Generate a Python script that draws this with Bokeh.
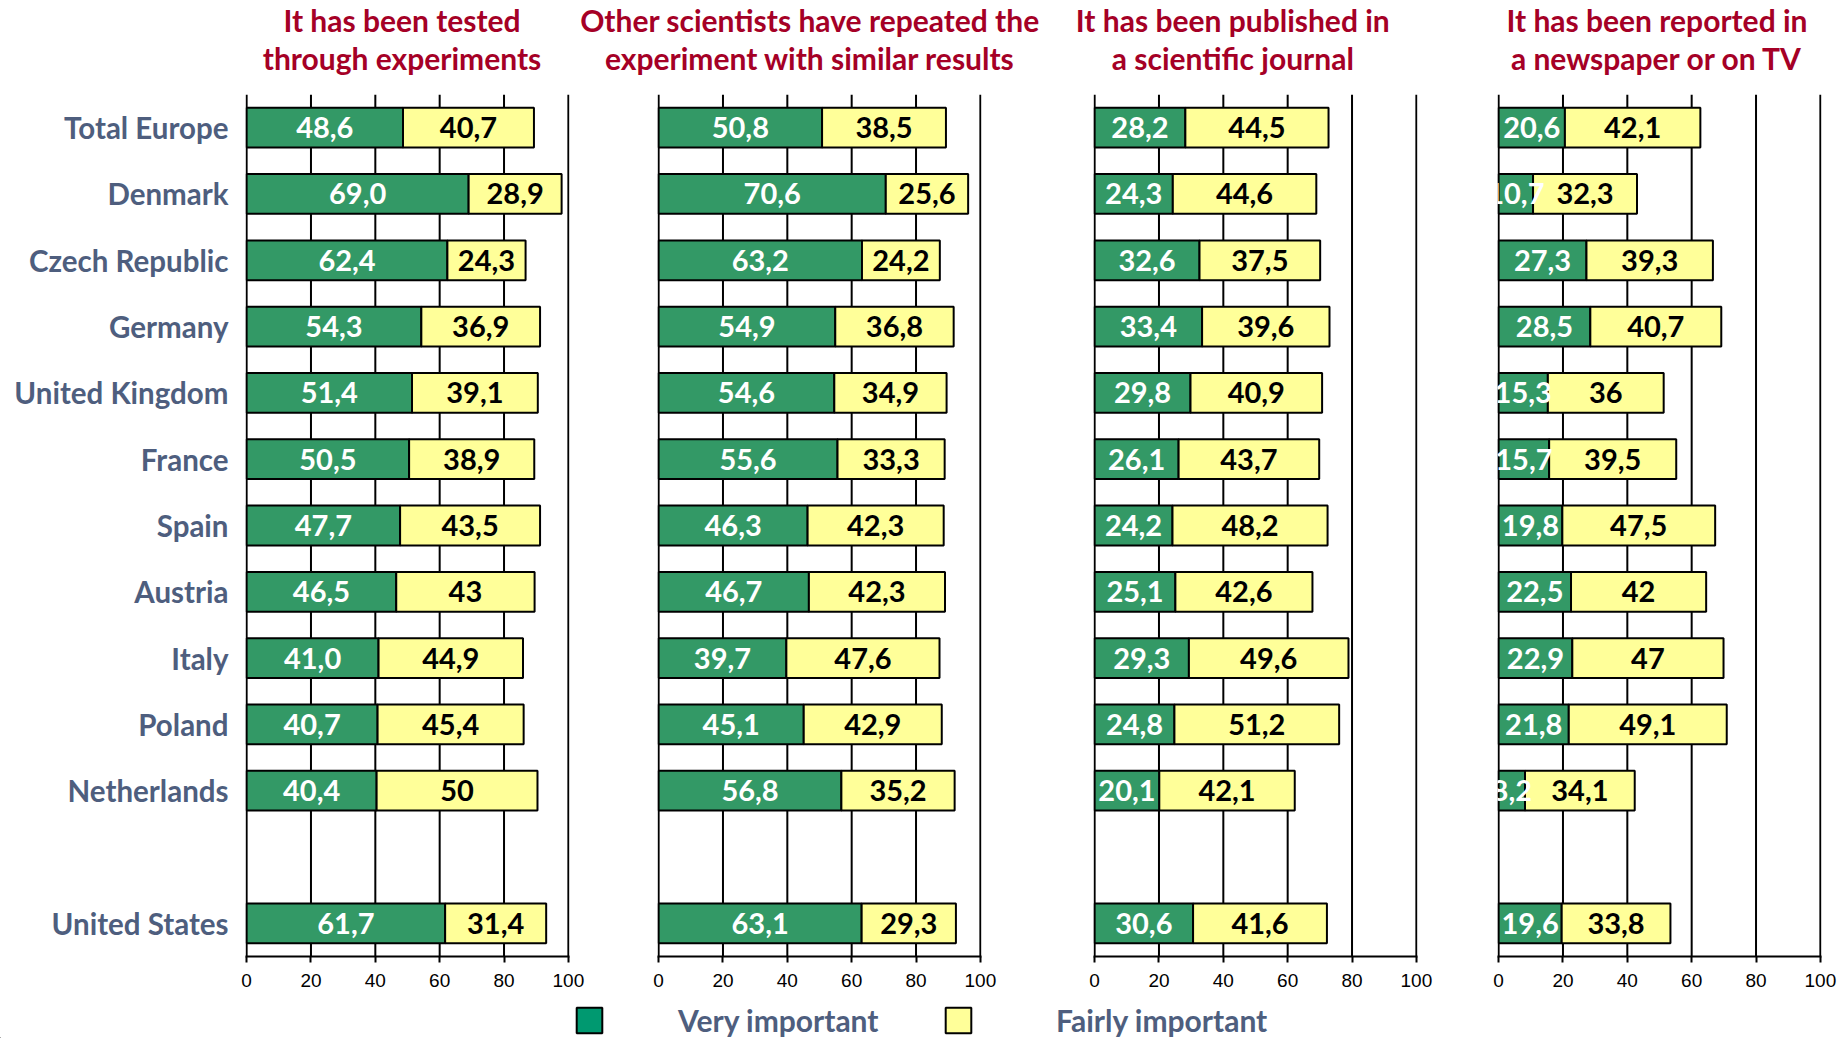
from bokeh.plotting import figure
from bokeh.models import (ColumnDataSource, FactorRange, Range1d, FixedTicker, Legend,
                          LegendItem, PolyAnnotation)
from bokeh.layouts import row, column
from bokeh.embed import file_html
from bokeh.resources import INLINE
from bokeh.core.properties import value

# ---------------- data ----------------
countries = ["Total Europe", "Denmark", "Czech Republic", "Germany", "United Kingdom",
             "France", "Spain", "Austria", "Italy", "Poland", "Netherlands", "United States"]

tested_very = [48.6, 69.0, 62.4, 54.3, 51.4, 50.5, 47.7, 46.5, 41.0, 40.7, 40.4, 61.7]
tested_fairly = [40.7, 28.9, 24.3, 36.9, 39.1, 38.9, 43.5, 43, 44.9, 45.4, 50, 31.4]

repeated_very = [50.8, 70.6, 63.2, 54.9, 54.6, 55.6, 46.3, 46.7, 39.7, 45.1, 56.8, 63.1]
repeated_fairly = [38.5, 25.6, 24.2, 36.8, 34.9, 33.3, 42.3, 42.3, 47.6, 42.9, 35.2, 29.3]

journal_very = [28.2, 24.3, 32.6, 33.4, 29.8, 26.1, 24.2, 25.1, 29.3, 24.8, 20.1, 30.6]
journal_fairly = [44.5, 44.6, 37.5, 39.6, 40.9, 43.7, 48.2, 42.6, 49.6, 51.2, 42.1, 41.6]

media_very = [20.6, 10.7, 27.3, 28.5, 15.3, 15.7, 19.8, 22.5, 22.9, 21.8, 8.2, 19.6]
media_fairly = [42.1, 32.3, 39.3, 40.7, 36, 39.5, 47.5, 42, 47, 49.1, 34.1, 33.8]

title_line1 = ["It has been tested", "Other scientists have repeated the",
               "It has been published in", "It has been reported in"]
title_line2 = ["through experiments", "experiment with similar results",
               "a scientific journal", "a newspaper or on TV"]
series_names = ["Very important", "Fairly important"]
x_ticks = [0, 20, 40, 60, 80, 100]
linked_label = "Spain"   # shown underlined (hyperlink) in the source chart

panels = [
    (tested_very, tested_fairly),
    (repeated_very, repeated_fairly),
    (journal_very, journal_fairly),
    (media_very, media_fairly),
]

# ---------------- style ----------------
GREEN = "#339966"
YELLOW = "#FFFF99"
LEG_GREEN = "#009970"
TITLE_RED = "#A50026"
SLATE = "#4E5E7E"
FONT = "Lato"
W = 1846
HEADER_H = 94
FRAME_W = 324

# row order bottom -> top (blank spacer between Netherlands and United States)
factors = [countries[-1], " "] + list(reversed(countries[:-1]))


def fmt(v):
    if isinstance(v, int):
        return str(v)
    return f"{v:.1f}".replace(".", ",")


# per-panel geometry: (figure width, left border, right border, title centre offset)
geom = [
    (585, 245, 16, -5.5),
    (452, 72, 56, -9.5),
    (419, 56, 39, -22.7),
    (390, 41, 25, -2.5),
]

# ---------------- header with the two-line panel titles ----------------
hdr = figure(width=W, height=HEADER_H, x_range=Range1d(0, W), y_range=Range1d(HEADER_H, 0),
             toolbar_location=None, output_backend="svg", min_border=0)
hdr.axis.visible = False
hdr.grid.visible = False
hdr.outline_line_color = None
centres = []
left = 0
for (w, bl, br, off) in geom:
    centres.append(left + bl + FRAME_W / 2 + off)
    left += w
hdr.text(x=centres + centres, y=[19] * 4 + [57] * 4, text=title_line1 + title_line2,
         text_align="center", text_baseline="middle", text_font=value(FONT),
         text_font_style="bold", text_font_size="30px", text_color=TITLE_RED)

# ---------------- panels ----------------
figs = []
for i, ((very, fairly), (w, bl, br, off)) in enumerate(zip(panels, geom)):
    src = ColumnDataSource(dict(
        country=countries,
        very=very,
        total=[a + b for a, b in zip(very, fairly)],
        vx=[a / 2 for a in very],
        fx=[a + b / 2 for a, b in zip(very, fairly)],
        vlab=[fmt(a) for a in very],
        flab=[fmt(b) for b in fairly],
    ))
    p = figure(width=w, height=900, y_range=FactorRange(*factors, range_padding=0),
               x_range=Range1d(-0.35, 100.35), toolbar_location=None, output_backend="svg",
               title=None, min_border_left=bl, min_border_right=br, min_border_top=0,
               min_border_bottom=38)
    p.outline_line_color = None
    p.background_fill_color = None
    p.border_fill_color = None

    # vertical grid lines as glyphs, drawn beneath the bars
    p.segment(x0=x_ticks, x1=x_ticks, y0=[0] * len(x_ticks), y1=[len(factors)] * len(x_ticks),
              line_color="black", line_width=2)

    p.hbar(y="country", left=0, right="very", height=0.6, fill_color=GREEN,
           line_color="black", line_width=2, source=src)
    p.hbar(y="country", left="very", right="total", height=0.6, fill_color=YELLOW,
           line_color="black", line_width=2, source=src)
    p.text(x="vx", y="country", text="vlab", text_align="center", text_baseline="middle",
           text_font=value(FONT), text_font_style="bold", text_font_size="29px",
           text_color="white", source=src)
    p.text(x="fx", y="country", text="flab", text_align="center", text_baseline="middle",
           text_font=value(FONT), text_font_style="bold", text_font_size="29px",
           text_color="black", source=src)

    p.grid.visible = False

    # x axis
    xa = p.xaxis[0]
    xa.ticker = FixedTicker(ticks=x_ticks)
    xa.axis_line_color = "black"
    xa.axis_line_width = 2
    xa.major_tick_line_color = "black"
    xa.major_tick_line_width = 2
    xa.major_tick_out = 6
    xa.major_tick_in = 0
    xa.minor_tick_line_color = None
    xa.major_label_text_font = "Liberation Sans"
    xa.major_label_text_font_size = "19px"
    xa.major_label_text_color = "black"
    xa.major_label_standoff = 11

    # y axis (labels only on the first panel)
    ya = p.yaxis[0]
    if i == 0:
        ya.axis_line_color = None
        ya.major_tick_line_color = None
        ya.minor_tick_line_color = None
        ya.major_label_standoff = 11
        ya.major_label_text_font = FONT
        ya.major_label_text_font_style = "bold"
        ya.major_label_text_font_size = "29.5px"
        ya.major_label_text_color = SLATE
        # hyperlink underline beneath the linked country label (in the axis margin)
        yc = factors.index(linked_label) + 0.5 - 0.211
        x0, x1 = -27.7, -5.94
        p.add_layout(PolyAnnotation(xs=[x0, x1, x1, x0], ys=[yc - 0.015, yc - 0.015, yc + 0.015, yc + 0.015],
                                    fill_color=SLATE, fill_alpha=1, line_color=None,
                                    level="overlay"))
    else:
        ya.visible = False
    figs.append(p)

# ---------------- legend strip ----------------
lf = figure(width=W, height=44, toolbar_location=None, output_backend="svg",
            x_range=Range1d(0, 1), y_range=Range1d(0, 1), min_border=0)
lf.xaxis.visible = False
lf.yaxis.visible = False
lf.grid.visible = False
lf.outline_line_color = None
proxy = ColumnDataSource(dict(y=[-5], r=[-5]))  # off-canvas proxies for the swatches
r_very = lf.hbar(y="y", right="r", height=1, fill_color=LEG_GREEN, line_color="black",
                 line_width=2, source=proxy)
r_fair = lf.hbar(y="y", right="r", height=1, fill_color=YELLOW, line_color="black",
                 line_width=2, source=proxy)
for rend, name, loc, stand in [(r_very, series_names[0], (573, 0), 73),
                               (r_fair, series_names[1], (942, 0), 82)]:
    leg = Legend(items=[LegendItem(label=name, renderers=[rend])], location=loc,
                 orientation="horizontal", glyph_width=32, glyph_height=32,
                 label_standoff=stand, padding=0, margin=0, spacing=0,
                 border_line_color=None, background_fill_alpha=0,
                 label_text_font=FONT, label_text_font_style="bold",
                 label_text_font_size="30px", label_text_color=SLATE)
    lf.add_layout(leg)

layout = column(hdr, row(*figs, spacing=0), lf, spacing=0)
open("out.html", "w").write(file_html(layout, INLINE))
